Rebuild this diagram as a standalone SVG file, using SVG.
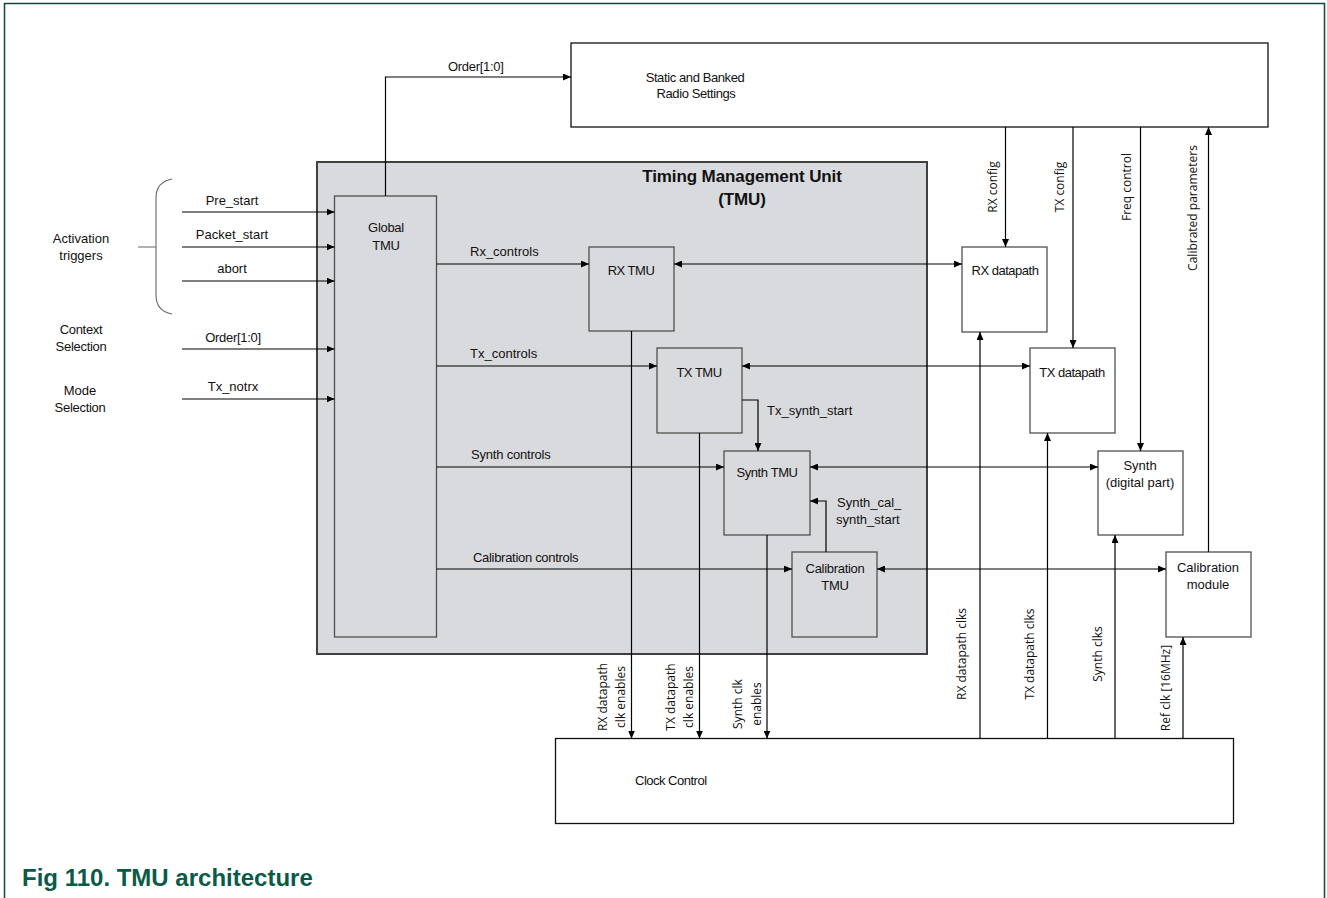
<svg xmlns="http://www.w3.org/2000/svg" width="1327" height="898" viewBox="0 0 1327 898">
<defs>
<marker id="arr" viewBox="0 0 8 7" refX="8" refY="3.5" markerWidth="8" markerHeight="7" markerUnits="userSpaceOnUse" orient="auto-start-reverse">
<path d="M0,0 L8,3.5 L0,7 z" fill="#000"/>
</marker>
<style>
.lbl{font-family:"Liberation Sans",Arial,sans-serif;font-size:13px;fill:#111;}
.mid{text-anchor:middle;}
.rot{font-family:"Open Sans","Noto Sans",sans-serif;font-size:12px;fill:#111;text-anchor:middle;}
.title{font-family:"Liberation Sans",Arial,sans-serif;font-size:17px;font-weight:bold;letter-spacing:-0.1px;fill:#111;text-anchor:middle;}
.outer{fill:#fff;stroke:#111;stroke-width:1.3;}
.inner{fill:#d9dadd;stroke:#505050;stroke-width:1.3;}
.dp{fill:#fff;stroke:#505050;stroke-width:1.3;}
.ln{fill:none;stroke:#000;stroke-width:1.2;}
.a{marker-end:url(#arr);}
.b{marker-start:url(#arr);marker-end:url(#arr);}
</style>
</defs>
<rect width="1327" height="898" fill="#fff"/>
<path d="M4.5,898 V3.5 H1324.5 V898" fill="none" stroke="#0d4a3c" stroke-width="1.5"/>
<text x="22" y="886" font-family="Liberation Sans,Arial,sans-serif" font-size="24" font-weight="bold" fill="#0a5a48">Fig 110. TMU architecture</text>

<g id="static-settings">
<rect class="outer" x="571" y="43" width="697" height="84"/>
<text class="lbl mid" x="695" y="82" letter-spacing="-0.4">Static and Banked</text>
<text class="lbl mid" x="696" y="98" letter-spacing="-0.4">Radio Settings</text>
</g>

<g id="tmu">
<rect x="317" y="162" width="610" height="492" fill="#d9dadd" stroke="#404040" stroke-width="2"/>
<text class="title" x="742" y="182">Timing Management Unit</text>
<text class="title" x="742" y="205">(TMU)</text>
</g>

<g id="global-tmu">
<rect class="inner" x="334.5" y="196" width="102" height="441"/>
<text class="lbl mid" x="386" y="232" letter-spacing="-0.3">Global</text>
<text class="lbl mid" x="386" y="250" letter-spacing="-0.3">TMU</text>
</g>

<g id="rx-tmu">
<rect class="inner" x="589" y="247" width="85" height="84"/>
<text class="lbl mid" x="631" y="275" letter-spacing="-0.5">RX TMU</text>
</g>
<g id="tx-tmu">
<rect class="inner" x="657" y="348" width="85" height="85"/>
<text class="lbl mid" x="699" y="377" letter-spacing="-0.5">TX TMU</text>
</g>
<g id="synth-tmu">
<rect class="inner" x="724" y="451" width="86" height="84"/>
<text class="lbl mid" x="767" y="477" letter-spacing="-0.4">Synth TMU</text>
</g>
<g id="cal-tmu">
<rect class="inner" x="792" y="552" width="85" height="85"/>
<text class="lbl mid" x="835" y="573" letter-spacing="-0.3">Calibration</text>
<text class="lbl mid" x="835" y="590" letter-spacing="-0.3">TMU</text>
</g>

<g id="rx-datapath">
<rect class="dp" x="962" y="247" width="85" height="85"/>
<text class="lbl mid" x="1005" y="275" letter-spacing="-0.5">RX datapath</text>
</g>
<g id="tx-datapath">
<rect class="dp" x="1030" y="348" width="85" height="85"/>
<text class="lbl mid" x="1072" y="377" letter-spacing="-0.5">TX datapath</text>
</g>
<g id="synth-digital">
<rect class="dp" x="1098" y="451" width="85" height="84"/>
<text class="lbl mid" x="1140" y="470">Synth</text>
<text class="lbl mid" x="1140" y="487">(digital part)</text>
</g>
<g id="cal-module">
<rect class="dp" x="1166" y="552" width="85" height="85"/>
<text class="lbl mid" x="1208" y="572">Calibration</text>
<text class="lbl mid" x="1208" y="589">module</text>
</g>

<g id="clock-control">
<rect class="outer" x="555.5" y="738.5" width="678" height="85"/>
<text class="lbl" x="635" y="785" letter-spacing="-0.5">Clock Control</text>
</g>

<g id="left-labels">
<path d="M172,179 C161,181 156,188 156,198 L156,295 C156,305 161,312 172,314 M138,247 H156" fill="none" stroke="#666" stroke-width="1.1"/>
<text class="lbl mid" x="81" y="243">Activation</text>
<text class="lbl mid" x="81" y="260">triggers</text>
<text class="lbl mid" x="81" y="334" letter-spacing="-0.3">Context</text>
<text class="lbl mid" x="81" y="351" letter-spacing="-0.3">Selection</text>
<text class="lbl mid" x="80" y="395">Mode</text>
<text class="lbl mid" x="80" y="412" letter-spacing="-0.3">Selection</text>
</g>

<g id="connectors">
<path class="ln a" d="M385.5,196 V77 H571"/>
<path class="ln a" d="M182,212 H334.5"/>
<path class="ln a" d="M182,247 H334.5"/>
<path class="ln a" d="M182,281 H334.5"/>
<path class="ln a" d="M182,349 H334.5"/>
<path class="ln a" d="M182,399 H334.5"/>
<path class="ln a" d="M436.5,264 H589"/>
<path class="ln a" d="M436.5,366 H657"/>
<path class="ln a" d="M436.5,467 H724"/>
<path class="ln a" d="M436.5,569 H792"/>
<path class="ln b" d="M674,264 H962"/>
<path class="ln b" d="M742,366 H1030"/>
<path class="ln b" d="M810,467 H1098"/>
<path class="ln b" d="M877,569 H1166"/>
<path class="ln a" d="M742,400 H758 V451"/>
<path class="ln a" d="M826,552 V501 H810"/>
<path class="ln a" d="M631.5,331 V738.5"/>
<path class="ln a" d="M699.5,433 V738.5"/>
<path class="ln a" d="M767,535 V738.5"/>
<path class="ln a" d="M1005.5,127 V247"/>
<path class="ln a" d="M1073,127 V348"/>
<path class="ln a" d="M1140.5,127 V451"/>
<path class="ln a" d="M1208.5,552 V127"/>
<path class="ln a" d="M980,738.5 V332"/>
<path class="ln a" d="M1047.5,738.5 V433"/>
<path class="ln a" d="M1115,738.5 V535"/>
<path class="ln a" d="M1183,738.5 V637"/>

<text class="lbl" x="448" y="71" letter-spacing="-0.3">Order[1:0]</text>
<text class="lbl mid" x="232" y="205">Pre_start</text>
<text class="lbl mid" x="232" y="239">Packet_start</text>
<text class="lbl mid" x="232" y="273">abort</text>
<text class="lbl mid" x="233" y="342" letter-spacing="-0.3">Order[1:0]</text>
<text class="lbl mid" x="233" y="391">Tx_notrx</text>
<text class="lbl" x="470" y="256">Rx_controls</text>
<text class="lbl" x="470" y="358">Tx_controls</text>
<text class="lbl" x="471" y="459" letter-spacing="-0.2">Synth controls</text>
<text class="lbl" x="473" y="562" letter-spacing="-0.3">Calibration controls</text>
<text class="lbl" x="767" y="415">Tx_synth_start</text>
<text class="lbl" x="837" y="507">Synth_cal_</text>
<text class="lbl" x="836" y="524">synth_start</text>

<text class="rot" transform="translate(997,187) rotate(-90)">RX config</text>
<text class="rot" transform="translate(1064,187) rotate(-90)">TX config</text>
<text class="rot" transform="translate(1131,187) rotate(-90)">Freq control</text>
<text class="rot" transform="translate(1197,208) rotate(-90)">Calibrated parameters</text>

<text class="rot" transform="translate(607,697) rotate(-90)">RX datapath</text>
<text class="rot" transform="translate(625,697) rotate(-90)">clk enables</text>
<text class="rot" transform="translate(675,697) rotate(-90)">TX datapath</text>
<text class="rot" transform="translate(693,697) rotate(-90)">clk enables</text>
<text class="rot" transform="translate(742,704) rotate(-90)">Synth clk</text>
<text class="rot" transform="translate(761,704) rotate(-90)">enables</text>

<text class="rot" transform="translate(966,654) rotate(-90)">RX datapath clks</text>
<text class="rot" transform="translate(1034,654) rotate(-90)">TX datapath clks</text>
<text class="rot" transform="translate(1102,654) rotate(-90)">Synth clks</text>
<text class="rot" transform="translate(1170,688) rotate(-90)">Ref clk [16MHz]</text>
</g>
</svg>
